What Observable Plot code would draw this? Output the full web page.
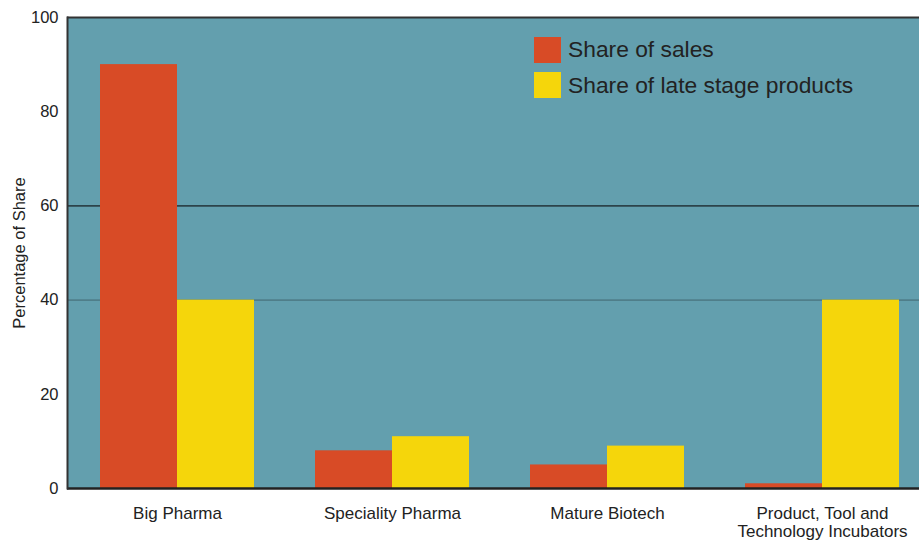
<!DOCTYPE html>
<html>
<head>
<meta charset="utf-8">
<script src="https://cdn.jsdelivr.net/npm/d3@7"></script>
<script src="https://cdn.jsdelivr.net/npm/@observablehq/plot@0.6"></script>
<style>
  html, body { margin: 0; padding: 0; background: #fff; overflow: hidden; }
  #chart { position: relative; width: 919px; height: 542px; font-family: "Liberation Sans", Arial, Helvetica, sans-serif; }
  #chart svg { display: block; }
  .legend { position: absolute; left: 534px; top: 32px; color: #222; font-size: 22.8px; line-height: 35.5px; }
  .legend .item { display: flex; align-items: center; height: 35.5px; }
  .legend .swatch { width: 27px; height: 26px; margin-right: 7px; flex: none; }
</style>
</head>
<body>
<div id="chart"></div>
<script>
// Company groups and their shares (%)
const categories = ["Big Pharma", "Speciality Pharma", "Mature Biotech", "Product, Tool and\nTechnology Incubators"];
const salesShare = [90, 8, 5, 1];
const lateStageShare = [40, 11, 9, 40];
const seriesNames = ["Share of sales", "Share of late stage products"];
const yTicks = [0, 20, 40, 60, 80, 100];

const colors = ["#d84b26", "#f5d60b"];
const teal = "#639fae";

const sales = categories.map((c, i) => ({category: c, value: salesShare[i]}));
const lateStage = categories.map((c, i) => ({category: c, value: lateStageShare[i]}));

const chart = Plot.plot({
  width: 919,
  height: 542,
  marginTop: 17,
  marginBottom: 54,
  marginLeft: 67,
  marginRight: 0,
  style: {fontFamily: "'Liberation Sans', Arial, Helvetica, sans-serif", color: "#222", background: "#fff"},
  x: {domain: categories, range: [67, 931.5], paddingInner: 0.2854, paddingOuter: 0.1485, label: null},
  y: {domain: [0, 100], label: null},
  marks: [
    Plot.frame({fill: teal, stroke: null}),
    // reference lines at 40 and 60
    Plot.ruleY([40], {stroke: "#4f7e8a", strokeWidth: 1.6}),
    Plot.ruleY([60], {stroke: "#2c434a", strokeWidth: 1.6}),
    // each group: sales bar on the left half, late-stage bar on the right half
    Plot.barY(sales, {x: "category", y: "value", fill: colors[0], insetRight: 77}),
    Plot.barY(lateStage, {x: "category", y: "value", fill: colors[1], insetLeft: 77}),
    Plot.ruleY([100], {stroke: "#333", strokeWidth: 2}),
    Plot.ruleY([0], {stroke: "#222", strokeWidth: 2.5}),
    Plot.frame({anchor: "left", stroke: "#333", strokeWidth: 2}),
    Plot.axisY(yTicks, {
      tickSize: 0, tickPadding: 9, fontSize: 16.5, fill: "#222",
      label: "Percentage of Share", labelAnchor: "center", labelArrow: "none", labelOffset: 54
    }),
    Plot.axisX({tickSize: 0, tickPadding: 17, fontSize: 17, fill: "#222", lineHeight: 1.1, label: null})
  ]
});

const root = document.getElementById("chart");
root.appendChild(chart);

// legend drawn over the upper right of the plot area
const legend = document.createElement("div");
legend.className = "legend";
seriesNames.forEach((name, i) => {
  const item = document.createElement("div");
  item.className = "item";
  const sw = document.createElement("span");
  sw.className = "swatch";
  sw.style.background = colors[i];
  const label = document.createElement("span");
  label.textContent = name;
  item.appendChild(sw);
  item.appendChild(label);
  legend.appendChild(item);
});
root.appendChild(legend);
</script>
</body>
</html>
